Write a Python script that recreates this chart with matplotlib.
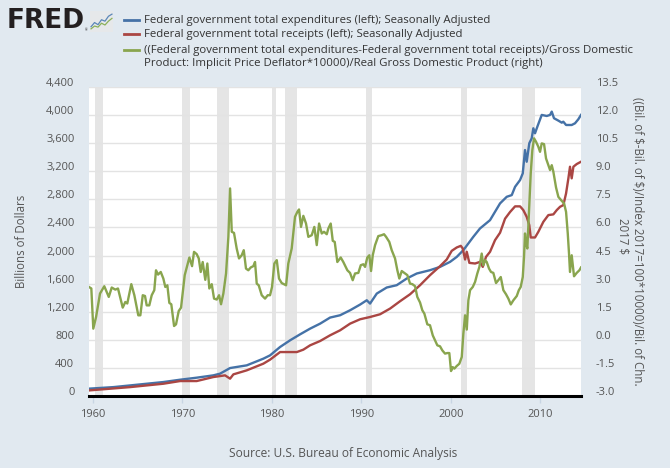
import matplotlib
matplotlib.use('Agg')
import matplotlib.pyplot as plt
from matplotlib.lines import Line2D
import matplotlib.transforms as mtransforms

plt.rcParams['font.family'] = ['Open Sans', 'DejaVu Sans']

# ---------------- data ----------------
EXP_YEARS = [1959.55, 1962.27, 1964.14, 1966.00, 1967.86, 1969.73, 1971.59, 1973.45, 1974.20,
             1975.32, 1977.18, 1979.04, 1979.79, 1980.91, 1982.03, 1983.15, 1984.27, 1985.39,
             1986.50, 1987.62, 1988.74, 1989.86, 1990.60, 1990.97, 1991.72, 1992.83, 1993.95,
             1995.07, 1996.19, 1997.67, 1998.79, 1999.91, 2000.66, 2001.40, 2002.51, 2003.26,
             2004.38, 2005.50, 2006.25, 2006.81, 2007.18, 2007.74, 2008.04, 2008.29, 2008.48,
             2008.77, 2009.04, 2009.22, 2009.41, 2009.67, 2010.16, 2010.72, 2011.09, 2011.28,
             2011.53, 2012.02, 2012.40, 2012.57, 2012.88, 2013.51, 2013.88, 2014.25, 2014.55]
EXP_VALUES = [110, 132, 156, 180, 204, 237, 266, 299, 323,
              403, 441, 536, 583, 702, 797, 882, 963, 1034,
              1120, 1153, 1224, 1305, 1366, 1319, 1461, 1547, 1580,
              1675, 1746, 1793, 1840, 1911, 1982, 2078, 2267, 2386,
              2504, 2742, 2836, 2860, 2978, 3074, 3169, 3500, 3334,
              3596, 3667, 3809, 3738, 3832, 3999, 3984, 3999, 4046,
              3952, 3918, 3889, 3903, 3856, 3856, 3880, 3937, 3999]

REC_YEARS = [1959.55, 1964.14, 1967.86, 1969.73, 1971.59, 1973.45, 1974.76, 1975.32, 1975.69,
             1977.18, 1979.04, 1979.79, 1980.91, 1982.03, 1982.78, 1983.51, 1984.27, 1985.39,
             1986.50, 1987.62, 1988.74, 1989.86, 1990.97, 1992.09, 1993.21, 1994.32, 1995.44,
             1996.56, 1997.67, 1998.79, 1999.54, 2000.10, 2000.66, 2001.11, 2001.33, 2001.59,
             2001.78, 2002.07, 2002.71, 2003.26, 2003.57, 2003.93, 2004.38, 2004.94, 2005.50,
             2006.06, 2006.62, 2007.18, 2007.74, 2008.10, 2008.48, 2008.77, 2008.93, 2009.41,
             2009.78, 2010.34, 2010.90, 2011.46, 2011.84, 2012.21, 2012.58, 2012.88, 2013.14,
             2013.32, 2013.51, 2013.70, 2014.07, 2014.55]
REC_VALUES = [85, 132, 180, 218, 218, 275, 299, 252, 313,
              370, 465, 522, 630, 630, 630, 664, 726, 787,
              868, 939, 1034, 1096, 1128, 1167, 1248, 1352, 1451,
              1580, 1722, 1850, 1945, 2068, 2116, 2139, 2102, 1945,
              2054, 1897, 1888, 1911, 1840, 1982, 2054, 2220, 2325,
              2525, 2620, 2700, 2700, 2647, 2551, 2433, 2258, 2258,
              2338, 2480, 2576, 2586, 2647, 2694, 2718, 2884, 3098,
              3263, 3098, 3263, 3301, 3334]

DEF_YEARS = [1959.55, 1959.81, 1960.03, 1960.34, 1960.78, 1961.26, 1961.76, 1962.09, 1962.49, 1962.79,
             1963.32, 1963.61, 1963.83, 1964.28, 1964.62, 1965.06, 1965.29, 1965.56, 1965.81, 1966.00,
             1966.29, 1966.56, 1966.85, 1967.04, 1967.27, 1967.57, 1967.86, 1968.08, 1968.31, 1968.53,
             1968.75, 1969.06, 1969.28, 1969.58, 1969.84, 1970.25, 1970.77, 1971.07, 1971.29, 1971.59,
             1971.82, 1972.04, 1972.26, 1972.55, 1972.78, 1973.00, 1973.27, 1973.53, 1973.83, 1974.09,
             1974.31, 1974.57, 1974.87, 1975.13, 1975.32, 1975.51, 1975.76, 1976.06, 1976.32, 1976.62,
             1976.85, 1977.10, 1977.36, 1977.63, 1977.92, 1978.11, 1978.30, 1978.52, 1978.86, 1979.23,
             1979.53, 1979.79, 1980.01, 1980.27, 1980.54, 1980.79, 1981.09, 1981.58, 1981.83, 1982.21,
             1982.58, 1982.84, 1983.03, 1983.25, 1983.51, 1983.81, 1984.07, 1984.45, 1984.74, 1985.01,
             1985.27, 1985.57, 1985.82, 1986.13, 1986.31, 1986.57, 1986.80, 1987.02, 1987.31, 1987.69,
             1987.98, 1988.43, 1988.73, 1989.03, 1989.29, 1989.66, 1989.93, 1990.22, 1990.41, 1990.66,
             1990.89, 1991.08, 1991.27, 1991.53, 1991.89, 1992.27, 1992.53, 1992.76, 1993.12, 1993.39,
             1993.76, 1994.02, 1994.24, 1994.51, 1994.88, 1995.14, 1995.44, 1995.70, 1996.00, 1996.25,
             1996.56, 1996.81, 1997.04, 1997.37, 1997.67, 1997.98, 1998.23, 1998.49, 1998.79, 1999.05,
             1999.35, 1999.61, 1999.83, 2000.02, 2000.21, 2000.39, 2000.66, 2000.95, 2001.22, 2001.40,
             2001.59, 2001.78, 2001.96, 2002.15, 2002.45, 2002.71, 2002.96, 2003.19, 2003.45, 2003.63,
             2003.82, 2004.01, 2004.27, 2004.49, 2004.75, 2005.05, 2005.31, 2005.58, 2005.87, 2006.17,
             2006.43, 2006.70, 2006.99, 2007.37, 2007.60, 2007.81, 2008.04, 2008.18, 2008.29, 2008.41,
             2008.55, 2008.74, 2008.93, 2009.11, 2009.30, 2009.52, 2009.78, 2009.97, 2010.16, 2010.42,
             2010.64, 2010.90, 2011.09, 2011.28, 2011.46, 2011.76, 2012.02, 2012.32, 2012.66, 2012.88,
             2013.07, 2013.21, 2013.32, 2013.51, 2013.77, 2014.07, 2014.37, 2014.55]
DEF_VALUES = [2.83, 2.75, 0.61, 1.23, 2.48, 2.87, 2.30, 2.80, 2.69, 2.75,
              1.73, 2.03, 1.95, 2.98, 2.39, 1.32, 1.32, 2.39, 2.35, 1.85,
              1.85, 2.39, 2.66, 3.72, 3.49, 3.63, 3.28, 2.83, 2.92, 1.98,
              1.91, 0.75, 0.84, 1.55, 1.73, 3.46, 4.40, 3.94, 4.70, 4.58,
              4.35, 3.63, 4.16, 3.21, 4.08, 2.75, 2.98, 2.21, 2.16, 2.39,
              1.91, 2.48, 3.55, 5.50, 8.08, 5.77, 5.71, 4.88, 4.35, 4.52,
              4.79, 3.81, 3.72, 3.87, 3.94, 4.16, 3.01, 2.92, 2.39, 2.21,
              2.39, 2.39, 2.83, 4.08, 4.26, 3.28, 3.04, 2.92, 4.08, 4.88,
              6.57, 6.83, 6.96, 6.03, 6.62, 6.21, 5.50, 5.59, 6.03, 5.06,
              6.21, 5.68, 5.77, 5.64, 5.95, 6.21, 5.29, 5.23, 4.16, 4.40,
              4.16, 3.72, 3.58, 3.19, 3.55, 3.58, 3.99, 4.04, 3.90, 4.40,
              4.52, 3.68, 4.52, 5.06, 5.54, 5.59, 5.64, 5.50, 5.23, 4.79,
              4.35, 3.72, 3.28, 3.68, 3.55, 3.46, 3.01, 2.98, 2.87, 2.30,
              2.00, 1.59, 1.41, 0.84, 0.79, 0.25, -0.01, -0.28, -0.33, -0.55,
              -0.72, -0.69, -0.69, -1.65, -1.44, -1.52, -1.38, -1.26, -0.90, 0.35,
              1.32, 0.56, 2.12, 2.66, 2.83, 3.10, 3.55, 3.90, 4.61, 3.99,
              4.26, 4.16, 3.81, 3.63, 3.58, 3.04, 3.19, 3.36, 2.66, 2.44,
              2.21, 1.90, 2.12, 2.35, 2.66, 2.83, 3.36, 4.43, 5.68, 5.15,
              4.88, 6.92, 8.88, 10.12, 10.75, 10.57, 10.30, 10.03, 10.48, 10.44,
              9.68, 9.32, 9.06, 9.32, 8.97, 8.13, 7.63, 7.46, 7.28, 6.83,
              5.68, 4.61, 3.63, 4.52, 3.40, 3.58, 3.72, 3.87]

RECESSION_STARTS = [1960.25, 1969.92, 1973.83, 1980.00, 1981.50, 1990.50, 2001.17, 2007.92]
RECESSION_ENDS = [1961.08, 1970.83, 1975.17, 1980.50, 1982.83, 1991.17, 2001.83, 2009.42]

X_TICKS = [1960, 1970, 1980, 1990, 2000, 2010]
LEFT_TICKS = [0, 400, 800, 1200, 1600, 2000, 2400, 2800, 3200, 3600, 4000, 4400]
RIGHT_TICKS = [-3.0, -1.5, 0.0, 1.5, 3.0, 4.5, 6.0, 7.5, 9.0, 10.5, 12.0, 13.5]

LEGEND_LABELS = [
    "Federal government total expenditures (left); Seasonally Adjusted",
    "Federal government total receipts (left); Seasonally Adjusted",
    "((Federal government total expenditures-Federal government total receipts)/Gross Domestic\n"
    "Product: Implicit Price Deflator*10000)/Real Gross Domestic Product (right)",
]
LEFT_LABEL = "Billions of Dollars"
RIGHT_LABEL_LINES = ["((Bil. of \\$-Bil. of \\$)/Index 2017=100*10000)/Bil. of Chn.", "2017 \\$"]
SOURCE = "Source: U.S. Bureau of Economic Analysis"

ICON_X = [0, 1, 2, 3, 4, 5, 6]
ICON_BLUE = [1.0, 2.2, 1.6, 3.0, 2.6, 4.0, 4.6]
ICON_GREEN = [0.4, 1.2, 0.9, 2.0, 1.5, 2.6, 3.4]

COLORS = ['#4572a7', '#aa4643', '#89a54e']
BG = '#e1e9f0'
TXT = '#555555'

# ---------------- figure ----------------
W, H = 670, 468
fig = plt.figure(figsize=(W / 100, H / 100), dpi=100, facecolor=BG)


def fx(x):
    return x / W


def fy(y):
    return 1 - y / H


top, bot, left, right = 86.7, 396.4, 89, 581
ax = fig.add_axes([fx(left), fy(bot), (right - left) / W, (bot - top) / H])
ax.set_facecolor('white')
for a, b in zip(RECESSION_STARTS, RECESSION_ENDS):
    ax.axvspan(a, b, color='#e5e5e5', lw=0, zorder=0)

ax.plot(EXP_YEARS, EXP_VALUES, color=COLORS[0], lw=1.7, zorder=3, solid_joinstyle='round')
ax.plot(REC_YEARS, REC_VALUES, color=COLORS[1], lw=1.7, zorder=3, solid_joinstyle='round')
ax.set_xlim(1959.55, 2014.55)
ax.set_ylim(0, 4400)
ax.set_yticks(LEFT_TICKS)
ax.set_yticklabels([f"{v:,}" for v in LEFT_TICKS])
ax.grid(axis='y', color='#e3e3e3', lw=1, zorder=1)
ax.set_axisbelow(True)
ax.set_xticks(X_TICKS)
ax.set_xticklabels([str(v) for v in X_TICKS])
ax.tick_params(axis='x', length=5, width=1, color='#c8d5e3', pad=4, labelsize=8, labelcolor=TXT)
ax.tick_params(axis='y', length=0, pad=10.5, labelsize=8, labelcolor=TXT)
for s in ['left', 'right', 'top']:
    ax.spines[s].set_visible(False)
ax.spines['bottom'].set_color('black')
ax.spines['bottom'].set_linewidth(2.2)
ax.spines['bottom'].set_zorder(5)

ax2 = ax.twinx()
ax2.plot(DEF_YEARS, DEF_VALUES, color=COLORS[2], lw=1.7, zorder=3, solid_joinstyle='round')
ax2.set_ylim(-3.0, 13.5)
ax2.set_yticks(RIGHT_TICKS)
ax2.set_yticklabels([f"{v:.1f}" for v in RIGHT_TICKS])
ax2.tick_params(axis='y', length=0, pad=10.5, labelsize=8, labelcolor=TXT)
for s in ax2.spines.values():
    s.set_visible(False)

off = mtransforms.ScaledTranslation(0, 0.05, fig.dpi_scale_trans)
for t in ax.yaxis.get_major_ticks():
    t.label1.set_transform(t.label1.get_transform() + off)
for t in ax2.yaxis.get_major_ticks():
    t.label2.set_transform(t.label2.get_transform() + off)

# axis titles and source
fig.text(fx(21.7), fy(241.5), LEFT_LABEL, rotation=90, ha='center', va='center',
         fontsize=8.3, color=TXT)
fig.text(fx(637.5), fy(241), RIGHT_LABEL_LINES[0], rotation=270, ha='center', va='center',
         fontsize=8.3, color=TXT)
fig.text(fx(623), fy(236), RIGHT_LABEL_LINES[1], rotation=270, ha='center', va='center',
         fontsize=8.3, color=TXT)
fig.text(fx(343), fy(454), SOURCE, ha='center', va='center', fontsize=8.6, color=TXT)

# legend
rows = [20, 34.3, 50]
for lab, col, yy in zip(LEGEND_LABELS, COLORS, rows):
    fig.add_artist(Line2D([fx(124), fx(139)], [fy(yy), fy(yy)], color=col, lw=2,
                          transform=fig.transFigure))
    for i, line in enumerate(lab.split('\n')):
        fig.text(fx(144.5), fy(yy + i * 13.8), line, ha='left', va='center',
                 fontsize=8.2, color='#333333')

# FRED logo
fig.text(fx(7), fy(20.5), 'FRED', ha='left', va='center', fontsize=19,
         fontweight='bold', family='DejaVu Sans', color='#231f20')
fig.text(fx(84.5), fy(30.5), '®', ha='left', va='center', fontsize=2.5, color='#231f20')
iax = fig.add_axes([fx(90), fy(32), 23 / W, 21 / H])
iax.set_facecolor('#e6e8ea')
iax.plot(ICON_X, ICON_BLUE, color='#5b87b8', lw=0.9)
iax.plot(ICON_X, ICON_GREEN, color='#8bb05a', lw=0.9)
iax.set_xlim(-0.3, 6.3)
iax.set_ylim(-0.5, 5.5)
iax.set_xticks([])
iax.set_yticks([])
for s in iax.spines.values():
    s.set_visible(False)

fig.savefig('out.png', dpi=100, facecolor=BG)
